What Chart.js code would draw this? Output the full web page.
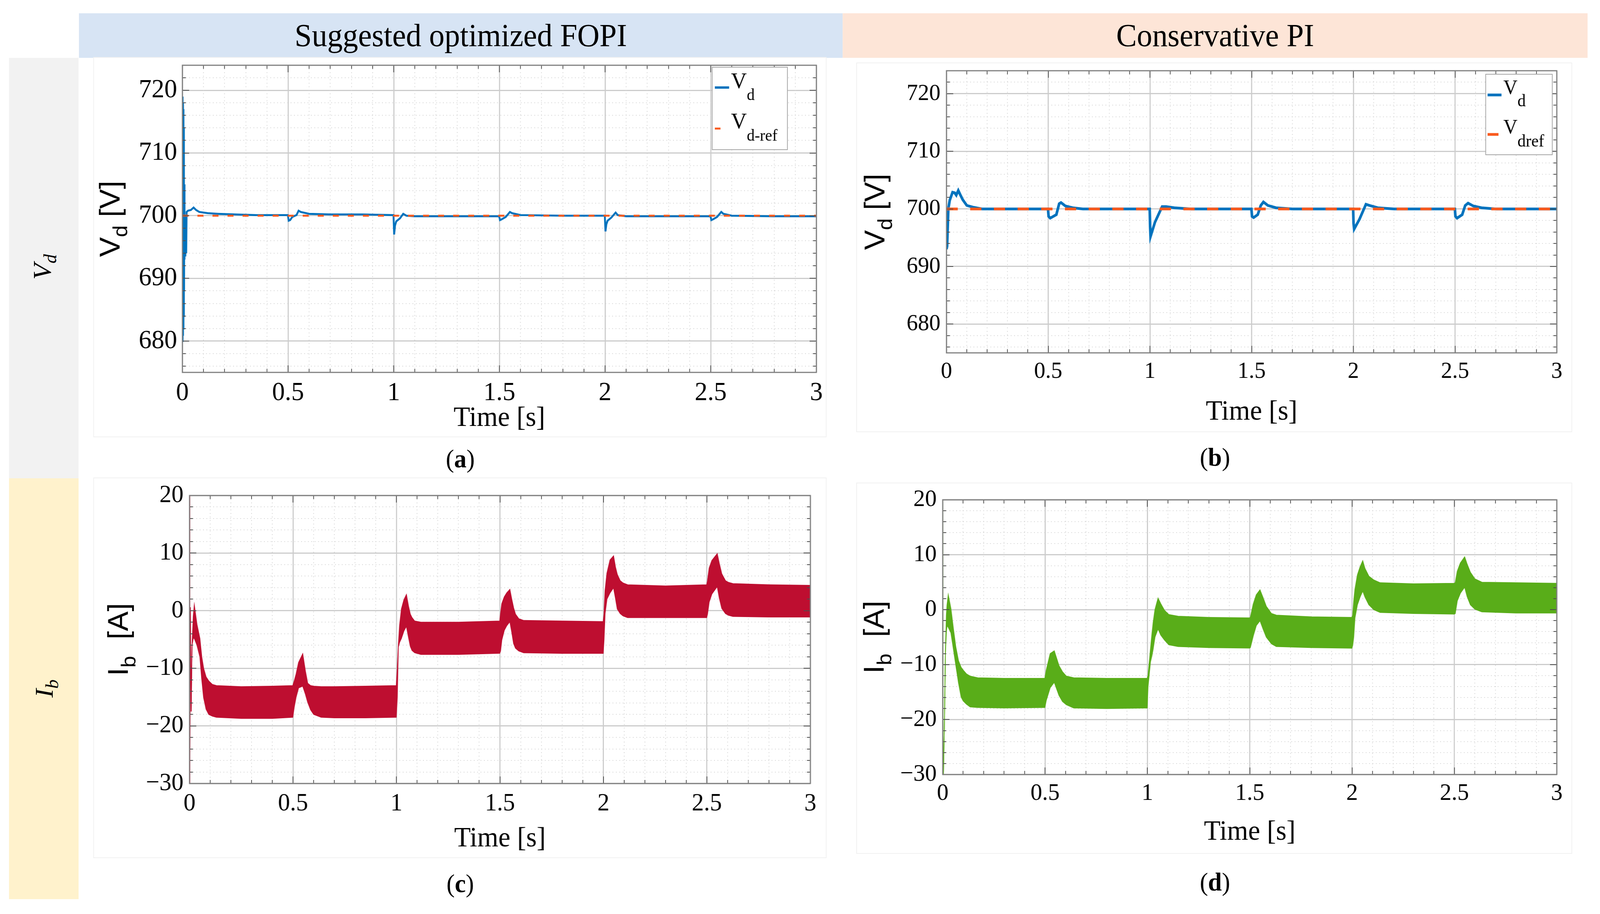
<!DOCTYPE html>
<html>
<head>
<meta charset="utf-8">
<script src="https://cdn.jsdelivr.net/npm/chart.js@4.4.1/dist/chart.umd.min.js"></script>
<style>
  html, body { margin: 0; padding: 0; background: #fff; width: 100%; height: 100%; overflow: hidden; }
  #page { position: absolute; left: 0; top: 0; width: 4255px; height: 2339px; transform-origin: 0 0;
          font-family: 'Liberation Serif', serif; color: #000; background: #fff; }
  .band { position: absolute; display: flex; align-items: center; justify-content: center; font-size: 82px; }
  .side { position: absolute; }
  .sideLabel { position: absolute; font-style: italic; font-size: 68px; white-space: nowrap; transform: translate(-50%, -50%) rotate(-90deg); }
  .sideLabel sub { font-size: 0.7em; }
  .cap { position: absolute; font-size: 66px; white-space: nowrap; transform: translate(-50%, -50%); }
  .panel { position: absolute; background: #fff; box-shadow: 0 0 0 2px #f1f1f1; }
</style>
</head>
<body>
<div id="page">
<div class="band" style="left:210px;top:34px;width:2031px;height:114px;background:#d7e4f4;">Suggested optimized FOPI</div>
<div class="band" style="left:2241px;top:34px;width:1981px;height:114px;background:#fde5d7;">Conservative PI</div>
<div class="side" style="left:24px;top:148px;width:185px;height:1076px;background:#f2f2f2;"></div>
<div class="side" style="left:24px;top:1224px;width:185px;height:1077px;background:#fff2cc;"></div>
<div class="sideLabel" style="left:117px;top:683px;">V<sub>d</sub></div>
<div class="sideLabel" style="left:122px;top:1762px;">I<sub>b</sub></div>

<div class="panel" style="left:250px;top:148px;width:1946px;height:969px;"><canvas id="chartA"></canvas></div>
<div class="panel" style="left:2279px;top:162px;width:1900px;height:942px;"><canvas id="chartB"></canvas></div>
<div class="panel" style="left:250px;top:1224px;width:1946px;height:970px;"><canvas id="chartC"></canvas></div>
<div class="panel" style="left:2279px;top:1237px;width:1900px;height:946px;"><canvas id="chartD"></canvas></div>

<div class="cap" style="left:1224px;top:1174px;">(<b>a</b>)</div>
<div class="cap" style="left:3231px;top:1170px;">(<b>b</b>)</div>
<div class="cap" style="left:1224px;top:2261px;">(<b>c</b>)</div>
<div class="cap" style="left:3231px;top:2257px;">(<b>d</b>)</div>
</div>

<script>
// tick labels
const xTicks = [0, 0.5, 1, 1.5, 2, 2.5, 3];
const vdTicks = [680, 690, 700, 710, 720];
const ibTicks = [-30, -20, -10, 0, 10, 20];

// reference voltage
const refTime = [0, 3];
const vdRef = [700, 700];

// (a) Vd, optimized FOPI
const timeA = [0, 0.001, 0.002, 0.003, 0.004, 0.005, 0.006, 0.007, 0.008, 0.009, 0.01, 0.012, 0.014, 0.016, 0.018, 0.02,
  0.027, 0.04, 0.053, 0.065, 0.08, 0.12, 0.17, 0.25, 0.35, 0.499,
  0.503, 0.51, 0.52, 0.54, 0.55, 0.56, 0.6, 0.7, 0.85, 0.999,
  1.002, 1.006, 1.012, 1.03, 1.045, 1.06, 1.1, 1.3, 1.499,
  1.503, 1.51, 1.53, 1.55, 1.56, 1.6, 1.8, 1.999,
  2.002, 2.006, 2.012, 2.03, 2.05, 2.06, 2.1, 2.3, 2.499,
  2.503, 2.51, 2.53, 2.55, 2.56, 2.6, 2.8, 3];
const vdA = [680, 719, 681, 718, 682, 717, 684, 714, 688, 705, 693, 700, 693.5, 700, 694, 700.6,
  700.8, 700.9, 701.3, 700.9, 700.6, 700.4, 700.3, 700.2, 700.1, 700.1,
  699.2, 699.3, 699.8, 700.1, 700.8, 700.6, 700.3, 700.2, 700.2, 700.1,
  697.0, 698.4, 699.1, 699.6, 700.3, 700.0, 699.9, 699.9, 699.9,
  699.3, 699.4, 699.8, 700.6, 700.4, 700.1, 700.0, 700.0,
  697.5, 698.6, 699.2, 699.7, 700.5, 700.1, 699.9, 699.9, 699.9,
  699.3, 699.4, 699.8, 700.6, 700.3, 700.0, 699.9, 699.9];

// (b) Vd, conservative PI
const timeB = [0, 0.003, 0.009, 0.016, 0.024, 0.03, 0.04, 0.048, 0.058, 0.07, 0.08, 0.1, 0.13, 0.175, 0.3, 0.499,
  0.502, 0.51, 0.54, 0.554, 0.563, 0.585, 0.62, 0.67, 0.8, 0.999,
  1.001, 1.003, 1.025, 1.06, 1.08, 1.12, 1.2, 1.35, 1.499,
  1.502, 1.51, 1.53, 1.545, 1.558, 1.58, 1.62, 1.7, 1.999,
  2.001, 2.004, 2.03, 2.062, 2.08, 2.12, 2.2, 2.499,
  2.502, 2.51, 2.535, 2.55, 2.564, 2.59, 2.63, 2.7, 3];
const vdB = [693.0, 693.5, 700.0, 701.5, 702.3, 702.9, 702.8, 702.4, 703.2, 702.3, 701.6, 700.6, 700.3, 700.0, 700.0, 700.0,
  698.7, 698.4, 699.0, 700.9, 701.1, 700.5, 700.2, 700.0, 700.0, 700.0,
  697.0, 695.2, 697.7, 700.4, 700.4, 700.2, 700.0, 700.0, 700.0,
  698.7, 698.5, 699.0, 700.6, 701.2, 700.6, 700.2, 700.0, 700.0,
  697.5, 696.5, 698.2, 700.8, 700.6, 700.2, 700.0, 700.0,
  698.7, 698.4, 699.0, 700.6, 701.0, 700.5, 700.2, 700.0, 700.0];

// (c) Ib ripple envelope, optimized FOPI
const timeC = [0, 0.001, 0.004, 0.008, 0.012, 0.018, 0.023, 0.036, 0.05, 0.059, 0.068, 0.08, 0.093, 0.11, 0.13, 0.25, 0.4, 0.499,
  0.506, 0.515, 0.527, 0.547, 0.56, 0.571, 0.585, 0.6, 0.636, 0.7, 0.85, 0.999,
  1.004, 1.009, 1.015, 1.024, 1.036, 1.048, 1.058, 1.067, 1.075, 1.088, 1.118, 1.3, 1.499,
  1.503, 1.509, 1.521, 1.533, 1.548, 1.557, 1.566, 1.575, 1.591, 1.615, 1.8, 1.999,
  2.003, 2.008, 2.017, 2.032, 2.049, 2.058, 2.067, 2.081, 2.095, 2.117, 2.3, 2.499,
  2.503, 2.511, 2.524, 2.55, 2.56, 2.572, 2.59, 2.605, 2.626, 2.8, 3];
const ibUpperC = [25, -35, 0.6, -17.5, -6, -1, 1.0, -2.4, -4.8, -8, -10, -11.5, -12.2, -12.8, -13.0, -13.2, -13.1, -13.0,
  -12.2, -11.0, -9.0, -7.5, -10.5, -12.6, -13.0, -13.1, -13.2, -13.2, -13.1, -13.0,
  -10, -6.0, -2.6, 0.3, 1.9, 2.8, 0.8, -0.6, -1.2, -1.8, -2.0, -2.0, -1.8,
  -0.5, 1.2, 2.4, 3.1, 3.7, 2.0, 0.5, -0.6, -1.4, -1.7, -1.8, -1.9,
  -0.5, 3.5, 6.5, 8.8, 9.5, 7.6, 6.3, 5.2, 4.8, 4.5, 4.3, 4.5,
  5.2, 7.4, 8.7, 9.9, 8.2, 6.4, 5.2, 4.9, 4.7, 4.5, 4.4];
const ibLowerC = [25, -35, 0.6, -17.5, -6, -4.8, -4.8, -6.0, -8.0, -11.9, -15.1, -17.1, -18.0, -18.3, -18.5, -18.7, -18.7, -18.5,
  -16.7, -15.0, -13.4, -13.1, -14.5, -15.9, -17.2, -18.0, -18.5, -18.6, -18.6, -18.5,
  -15, -6.3, -5.5, -4.8, -3.5, -2.7, -4.6, -6.2, -6.9, -7.3, -7.6, -7.6, -7.4,
  -7.0, -5.1, -3.4, -2.6, -1.9, -3.7, -5.7, -6.5, -7.0, -7.3, -7.4, -7.4,
  -5, -0.5, 2.0, 3.1, 4.0, 2.2, 0.3, -0.5, -0.9, -1.2, -1.2, -1.2,
  -0.6, 1.5, 2.9, 4.2, 2.2, 0.4, -0.5, -0.8, -1.0, -1.1, -1.1];

// (d) Ib ripple envelope, conservative PI
const timeD = [0, 0.002, 0.009, 0.013, 0.018, 0.021, 0.027, 0.04, 0.052, 0.064, 0.077, 0.09, 0.1, 0.116, 0.134, 0.171, 0.3, 0.499,
  0.506, 0.525, 0.545, 0.568, 0.585, 0.604, 0.64, 0.8, 0.999,
  1.003, 1.015, 1.022, 1.028, 1.037, 1.052, 1.065, 1.083, 1.105, 1.15, 1.3, 1.499,
  1.503, 1.517, 1.532, 1.55, 1.566, 1.581, 1.606, 1.63, 1.8, 1.999,
  2.003, 2.008, 2.014, 2.026, 2.039, 2.052, 2.063, 2.082, 2.106, 2.137, 2.3, 2.499,
  2.504, 2.514, 2.529, 2.55, 2.562, 2.578, 2.6, 2.634, 2.8, 3];
const ibUpperD = [22, -33, -19.8, -8, -1.0, 0.8, 2.7, 0.2, -3.4, -6.8, -9.3, -10.5, -11.0, -11.7, -12.1, -12.4, -12.5, -12.5,
  -11.0, -8.0, -7.5, -10.2, -11.3, -12.1, -12.4, -12.5, -12.5,
  -12, -7.2, -4.5, -2.4, 0, 2.1, 1.1, -0.1, -0.9, -1.2, -1.4, -1.5,
  -1.4, 1.0, 2.7, 3.6, 2.1, 0.6, -0.7, -1.0, -1.3, -1.4,
  -1.0, 1.5, 3.7, 6.3, 7.8, 8.9, 7.5, 6.1, 5.4, 4.9, 4.7, 4.8,
  4.9, 7.0, 8.5, 9.6, 8.3, 6.8, 5.6, 5.0, 4.9, 4.8];
const ibLowerD = [22, -33, -19.8, -8, -4, -2.9, -3.2, -4.2, -7.1, -10.1, -13.3, -15.9, -16.6, -17.2, -17.7, -17.8, -17.9, -17.8,
  -16.5, -14.2, -13.2, -15.6, -16.7, -17.3, -17.9, -18.0, -17.9,
  -14, -9.5, -8.4, -7.2, -5.0, -3.5, -4.6, -5.5, -6.4, -6.7, -6.9, -7.0,
  -6.9, -4.8, -2.9, -2.0, -3.6, -5.0, -6.2, -6.7, -6.9, -7.0,
  -6.5, -5, -1.5, 0.9, 2.3, 3.4, 2.3, 0.9, 0.0, -0.5, -0.7, -0.8,
  -0.7, 1.6, 3.0, 4.1, 2.4, 0.9, 0.1, -0.4, -0.6, -0.6];

const SERIF = "'Liberation Serif', serif";
const SANS = "'Liberation Sans', sans-serif";
const BLUE = '#0072bd';
const ORANGE = '#f95a1e';
const RED = '#be0e30';
const GREEN = '#59ad19';

// fit the 4255x2339 layout into whatever viewport we actually get
(function fitPage() {
  let sx = window.innerWidth / 4255, sy = window.innerHeight / 2339;
  if (!sx || !sy) { sx = 1; sy = 1; }
  document.getElementById('page').style.transform = 'scale(' + sx + ',' + sy + ')';
})();

function toXY(xs, ys) {
  return xs.map((x, i) => ({ x: x, y: ys[i] }));
}

function fmt(v) {
  return v < 0 ? '\u2212' + Math.abs(v) : String(v);
}

// no extra room for overhanging tick labels, the plot box is placed by hand
function noPad(s) {
  s.paddingTop = 0; s.paddingBottom = 0; s.paddingLeft = 0; s.paddingRight = 0;
}

// draw a run of text pieces (for subscripts), left to right from (x, y)
function drawParts(ctx, parts, x, y, measureOnly) {
  let w = 0;
  parts.forEach(p => {
    ctx.font = p.font;
    if (!measureOnly) ctx.fillText(p.t, x + w, y + (p.dy || 0));
    w += ctx.measureText(p.t).width;
  });
  return w;
}

function steps(min, max, step) {
  const out = [];
  const n = Math.round((max - min) / step);
  for (let k = 0; k <= n; k++) out.push(Math.round((min + k * step) * 1000) / 1000);
  return out;
}

// MATLAB-like box: minor dotted grid, box outline, inner ticks, y title, legend
const decor = {
  id: 'decor',
  beforeDatasetsDraw(chart, args, o) {
    const ctx = chart.ctx, a = chart.chartArea;
    const xs = chart.scales.x, ys = chart.scales.y;
    ctx.save();
    ctx.strokeStyle = '#d2d2d2';
    ctx.lineWidth = 2;
    ctx.setLineDash([2, 7]);
    steps(0, 3, 0.1).forEach(v => {
      if (xTicks.includes(v)) return;
      const px = Math.round(xs.getPixelForValue(v));
      ctx.beginPath(); ctx.moveTo(px, a.top); ctx.lineTo(px, a.bottom); ctx.stroke();
    });
    steps(o.minorFrom, ys.max, 2).forEach(v => {
      if (v < ys.min || o.majors.includes(v)) return;
      const py = Math.round(ys.getPixelForValue(v));
      ctx.beginPath(); ctx.moveTo(a.left, py); ctx.lineTo(a.right, py); ctx.stroke();
    });
    ctx.restore();
  },
  afterDatasetsDraw(chart, args, o) {
    const ctx = chart.ctx, a = chart.chartArea;
    const xs = chart.scales.x, ys = chart.scales.y;
    ctx.save();
    // inner ticks
    ctx.strokeStyle = '#4d4d4d';
    ctx.lineWidth = 2;
    steps(0, 3, 0.1).forEach(v => {
      const px = Math.round(xs.getPixelForValue(v));
      const len = xTicks.includes(v) ? 18 : 9;
      ctx.beginPath();
      ctx.moveTo(px, a.bottom); ctx.lineTo(px, a.bottom - len);
      ctx.moveTo(px, a.top); ctx.lineTo(px, a.top + len);
      ctx.stroke();
    });
    steps(o.minorFrom, ys.max, 2).forEach(v => {
      if (v < ys.min) return;
      const py = Math.round(ys.getPixelForValue(v));
      const len = o.majors.includes(v) ? 18 : 9;
      ctx.beginPath();
      ctx.moveTo(a.left, py); ctx.lineTo(a.left + len, py);
      ctx.moveTo(a.right, py); ctx.lineTo(a.right - len, py);
      ctx.stroke();
    });
    // box
    ctx.strokeStyle = '#808080';
    ctx.lineWidth = 3;
    ctx.strokeRect(a.left, a.top, a.right - a.left, a.bottom - a.top);

    // y title with subscript, rotated
    ctx.fillStyle = '#000';
    ctx.textBaseline = 'alphabetic';
    const tw = drawParts(ctx, o.yTitle, 0, 0, true);
    ctx.save();
    ctx.translate(a.left + o.yTitleX, (a.top + a.bottom) / 2);
    ctx.rotate(-Math.PI / 2);
    drawParts(ctx, o.yTitle, -tw / 2, 0);
    ctx.restore();

    // legend
    if (o.legend) {
      const L = o.legend;
      const bx = a.right - L.right - L.w, by = a.top + L.top;
      ctx.fillStyle = '#fff';
      ctx.fillRect(bx, by, L.w, L.h);
      ctx.strokeStyle = '#a6a6a6';
      ctx.lineWidth = 2;
      ctx.strokeRect(bx, by, L.w, L.h);
      L.items.forEach(it => {
        ctx.strokeStyle = it.color;
        ctx.lineWidth = it.width;
        ctx.setLineDash([]);
        ctx.beginPath();
        ctx.moveTo(bx + it.x0, by + it.ly);
        ctx.lineTo(bx + it.x1, by + it.ly);
        ctx.stroke();
        ctx.fillStyle = '#000';
        drawParts(ctx, it.parts, bx + L.tx, by + it.ty);
      });
    }
    ctx.restore();
  }
};

function makeChart(id, c) {
  return new Chart(document.getElementById(id), {
    type: 'line',
    data: { datasets: c.datasets },
    plugins: [decor],
    options: {
      responsive: true,
      maintainAspectRatio: false,
      animation: false,
      devicePixelRatio: 1,
      elements: { point: { radius: 0 }, line: { tension: 0 } },
      layout: { padding: { top: c.pt, right: c.pr, left: 0, bottom: 0 } },
      scales: {
        x: {
          type: 'linear', min: 0, max: 3,
          afterBuildTicks: s => { s.ticks = xTicks.map(v => ({ value: v })); },
          afterFit: s => { s.height = c.xh; noPad(s); },
          grid: { color: '#cccccc', lineWidth: 3, drawTicks: false },
          border: { display: false },
          ticks: { padding: c.xpad, color: '#000', autoSkip: false, maxRotation: 0,
                   font: { family: SERIF, size: c.tickSize }, callback: v => fmt(v) },
          title: { display: true, text: 'Time [s]', color: '#000',
                   font: { family: SERIF, size: 72 }, padding: { top: 0, bottom: c.tpad } }
        },
        y: {
          type: 'linear', min: c.ymin, max: c.ymax,
          afterBuildTicks: s => { s.ticks = c.yTicks.map(v => ({ value: v })); },
          afterFit: s => { s.width = c.yw; noPad(s); },
          grid: { color: '#cccccc', lineWidth: 3, drawTicks: false },
          border: { display: false },
          ticks: { padding: c.ypad, color: '#000', autoSkip: false,
                   font: { family: SERIF, size: c.tickSize }, callback: v => fmt(v) }
        }
      },
      plugins: {
        legend: { display: false },
        tooltip: { enabled: false },
        decor: {
          majors: c.yTicks, minorFrom: c.minorFrom,
          yTitle: c.yTitle, yTitleX: c.yTitleX, legend: c.legend
        }
      }
    }
  });
}

const vdTitle = [
  { t: 'V', font: '76px ' + SANS },
  { t: 'd', font: '54px ' + SANS, dy: 20 },
  { t: ' [V]', font: '76px ' + SANS }
];
const ibTitle = [
  { t: 'I', font: '76px ' + SANS },
  { t: 'b', font: '54px ' + SANS, dy: 20 },
  { t: '  [A]', font: '76px ' + SANS }
];

makeChart('chartA', {
  pt: 19, pr: 25, yw: 235, xh: 164, xpad: 12, ypad: 14, tpad: 3, tickSize: 68,
  ymin: 675, ymax: 724, yTicks: vdTicks, minorFrom: 676,
  yTitle: vdTitle, yTitleX: -167,
  legend: {
    right: 77, top: 5, w: 200, h: 211, tx: 50,
    items: [
      { color: BLUE, width: 6, x0: 7, x1: 45, ly: 52,
        parts: [{ t: 'V', font: '58px ' + SERIF }, { t: 'd', font: '42px ' + SERIF, dy: 30 }], ty: 54 },
      { color: ORANGE, width: 5, x0: 7, x1: 22, ly: 157,
        parts: [{ t: 'V', font: '58px ' + SERIF }, { t: 'd-ref', font: '42px ' + SERIF, dy: 31 }], ty: 157 }
    ]
  },
  datasets: [
    { data: toXY(refTime, vdRef), borderColor: ORANGE, borderWidth: 5, borderDash: [16, 24], fill: false },
    { data: toXY(timeA, vdA), borderColor: BLUE, borderWidth: 5, fill: false }
  ]
});

makeChart('chartB', {
  pt: 19, pr: 39, yw: 238, xh: 201, xpad: 12, ypad: 16, tpad: 6, tickSize: 60,
  ymin: 675, ymax: 724, yTicks: vdTicks, minorFrom: 676,
  yTitle: vdTitle, yTitleX: -165,
  legend: {
    right: 12, top: 9, w: 177, h: 206, tx: 47,
    items: [
      { color: BLUE, width: 7, x0: 5, x1: 42, ly: 53,
        parts: [{ t: 'V', font: '52px ' + SERIF }, { t: 'd', font: '44px ' + SERIF, dy: 31 }], ty: 51 },
      { color: ORANGE, width: 7, x0: 5, x1: 34, ly: 154,
        parts: [{ t: 'V', font: '52px ' + SERIF }, { t: 'dref', font: '44px ' + SERIF, dy: 33 }], ty: 152 }
    ]
  },
  datasets: [
    { data: toXY(refTime, vdRef), borderColor: ORANGE, borderWidth: 7, borderDash: [30, 33], fill: false },
    { data: toXY(timeB, vdB), borderColor: BLUE, borderWidth: 7, fill: false }
  ]
});

makeChart('chartC', {
  pt: 44, pr: 41, yw: 254, xh: 189, xpad: 14, ypad: 16, tpad: 4, tickSize: 64,
  ymin: -30, ymax: 20, yTicks: ibTicks, minorFrom: -30,
  yTitle: ibTitle, yTitleX: -164,
  datasets: [
    { data: toXY(timeC, ibUpperC), borderColor: RED, backgroundColor: RED, borderWidth: 2, fill: '+1' },
    { data: toXY(timeC, ibLowerC), borderColor: RED, borderWidth: 2, fill: false }
  ]
});

makeChart('chartD', {
  pt: 42, pr: 39, yw: 228, xh: 201, xpad: 12, ypad: 16, tpad: 10, tickSize: 62,
  ymin: -30, ymax: 20, yTicks: ibTicks, minorFrom: -30,
  yTitle: ibTitle, yTitleX: -157,
  datasets: [
    { data: toXY(timeD, ibUpperD), borderColor: GREEN, backgroundColor: GREEN, borderWidth: 2, fill: '+1' },
    { data: toXY(timeD, ibLowerD), borderColor: GREEN, borderWidth: 2, fill: false }
  ]
});
</script>
</body>
</html>
